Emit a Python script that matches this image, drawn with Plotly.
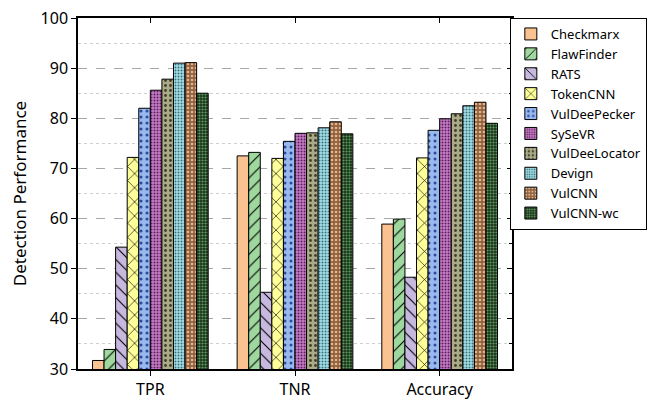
import plotly.graph_objects as go

categories = ["TPR", "TNR", "Accuracy"]
methods = ["Checkmarx", "FlawFinder", "RATS", "TokenCNN", "VulDeePecker",
           "SySeVR", "VulDeeLocator", "Devign", "VulCNN", "VulCNN-wc"]
checkmarx = [31.7, 72.5, 58.9]
flawfinder = [33.9, 73.2, 59.9]
rats = [54.3, 45.3, 48.3]
tokencnn = [72.2, 72.0, 72.1]
vuldeepecker = [82.0, 75.4, 77.6]
sysevr = [85.6, 77.0, 79.9]
vuldeelocator = [87.8, 77.1, 80.9]
devign = [91.0, 78.1, 82.5]
vulcnn = [91.1, 79.3, 83.2]
vulcnn_wc = [85.0, 76.9, 79.0]

series = [checkmarx, flawfinder, rats, tokencnn, vuldeepecker,
          sysevr, vuldeelocator, devign, vulcnn, vulcnn_wc]
fills = ["#FBC291", "#9ED89E", "#C6B8DE", "#FFFF99", "#99B8EE",
         "#C77FC7", "#ABAB88", "#A6E0E6", "#8A6445", "#1C321C"]
patterns = [
    dict(shape=""),
    dict(shape="/", fgcolor="#000000", size=9, solidity=0.12),
    dict(shape="\\", fgcolor="#000000", size=9, solidity=0.12),
    dict(shape="x", fgcolor="#000000", size=10, solidity=0.12),
    dict(shape=".", fgcolor="#2A4A9A", size=6, solidity=0.2),
    dict(shape=".", fgcolor="#5A1E5A", size=3, solidity=0.35),
    dict(shape=".", fgcolor="#3E3E2A", size=5, solidity=0.25),
    dict(shape=".", fgcolor="#3A6F80", size=3, solidity=0.35),
    dict(shape=".", fgcolor="#F0B080", size=4, solidity=0.35),
    dict(shape=".", fgcolor="#5FA05F", size=3, solidity=0.4),
]

fig = go.Figure()
for name, vals, col, pat in zip(methods, series, fills, patterns):
    p = dict(pat)
    if p["shape"]:
        p["bgcolor"] = col
        p["fillmode"] = "replace"
    fig.add_trace(go.Bar(
        name=name, x=categories, y=vals,
        marker=dict(color=col, line=dict(color="#000000", width=1), pattern=p),
    ))

# invisible trace to drive the mirrored inside-tick axes
fig.add_trace(go.Scatter(x=categories, y=[30, 30, 30], xaxis="x2", yaxis="y2",
                         mode="markers", marker=dict(opacity=0),
                         showlegend=False, hoverinfo="skip"))

font = "Noto Sans, Open Sans, DejaVu Sans, sans-serif"
fig.update_layout(
    width=649, height=393,
    margin=dict(l=70, r=143, t=10, b=32),
    paper_bgcolor="white", plot_bgcolor="white",
    barmode="group", bargap=0.2, bargroupgap=0,
    font=dict(family=font, size=16, color="#000000"),
    xaxis=dict(showline=True, linecolor="#000000", linewidth=1.5,
               ticks="outside", ticklen=5, tickcolor="#000000",
               showgrid=False, tickfont=dict(size=16), automargin=False,
               ticklabeloverflow="allow",
               minor=dict(ticks="outside", ticklen=3, tickcolor="#000000")),
    yaxis=dict(range=[30, 100], dtick=10, showline=True, linecolor="#000000",
               linewidth=1.5, ticks="outside", ticklen=5, tickcolor="#000000",
               showgrid=True, gridcolor="#A8A8A8", griddash="dash", gridwidth=1,
               zeroline=False, tickfont=dict(size=16), automargin=False,
               ticklabeloverflow="allow",
               title=dict(text="Detection Performance", font=dict(size=17), standoff=16),
               minor=dict(dtick=5, showgrid=True, gridcolor="#CFCFCF",
                          griddash="dot", gridwidth=1)),
    xaxis2=dict(overlaying="x", side="top", showline=True, linecolor="#000000",
                linewidth=1.5, ticks="inside", ticklen=5, tickcolor="#000000",
                showticklabels=False, showgrid=False, matches="x", automargin=False),
    yaxis2=dict(overlaying="y", side="right", range=[30, 100], dtick=10,
                showline=True, linecolor="#000000", linewidth=1.5,
                ticks="inside", ticklen=5, tickcolor="#000000",
                showticklabels=False, showgrid=False, zeroline=False, automargin=False,
                minor=dict(dtick=5, ticks="inside", ticklen=3, tickcolor="#000000")),
    legend=dict(x=0.995, xanchor="left", y=1.0, yanchor="top",
                bordercolor="#000000", borderwidth=1, bgcolor="white",
                font=dict(size=13), tracegroupgap=0, itemwidth=30,
                traceorder="normal"),
)

fig.write_html("out.html")
